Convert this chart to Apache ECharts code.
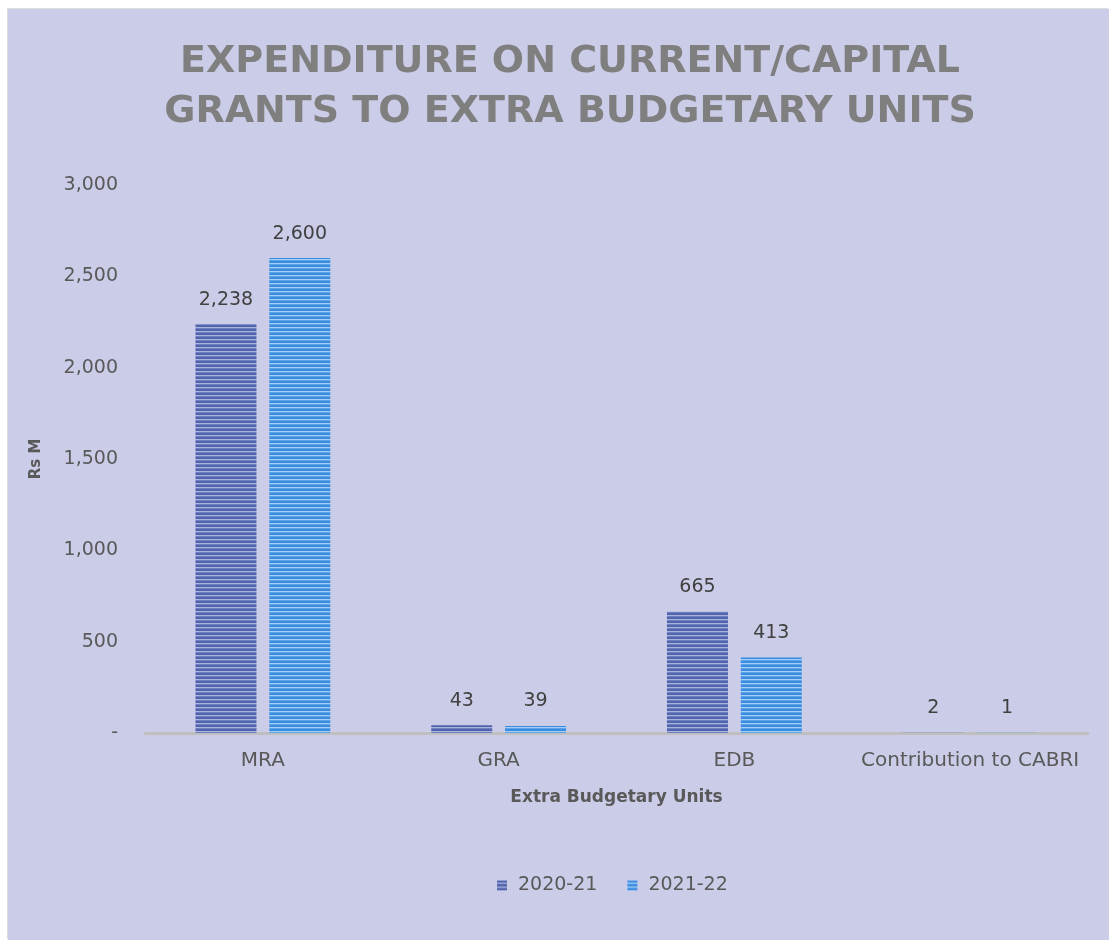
<!DOCTYPE html>
<html>
<head>
<meta charset="utf-8">
<script src="https://cdn.jsdelivr.net/npm/echarts@6/dist/echarts.min.js"></script>
<style>
  html, body { margin: 0; padding: 0; background: #fff; }
  #chart { position: absolute; left: 8px; top: 9px; width: 1101px; height: 931px;
           box-shadow: -1px -1px 0 #dcdcdc; }
</style>
</head>
<body>
<div id="chart"></div>
<script>
const categories = ["MRA", "GRA", "EDB", "Contribution to CABRI"];
const values2021 = [2238, 43, 665, 2];
const values2122 = [2600, 39, 413, 1];
const seriesNames = ["2020-21", "2021-22"];
const yTicks = [0, 500, 1000, 1500, 2000, 2500, 3000];

// horizontal stripe fill like the original
function stripes(dark, light, mid) {
  const c = document.createElement("canvas");
  c.width = 4;
  c.height = 4;
  const ctx = c.getContext("2d");
  ctx.fillStyle = dark;
  ctx.fillRect(0, 0, 4, 4);
  ctx.fillStyle = light;
  ctx.fillRect(0, 2, 4, 1);
  ctx.fillStyle = mid;
  ctx.fillRect(0, 3, 4, 1);
  return { image: c, repeat: "repeat" };
}

const fontFamily = "DejaVu Sans";
const chart = echarts.init(document.getElementById("chart"));

const labelStyle = {
  show: true,
  position: "top",
  distance: 15,
  color: "#404040",
  fontSize: 19,
  fontFamily: fontFamily,
  formatter: p => p.value.toLocaleString("en-US")
};

chart.setOption({
  backgroundColor: "#cbcce7",
  animation: false,
  title: {
    text: "EXPENDITURE ON CURRENT/CAPITAL\nGRANTS TO EXTRA BUDGETARY UNITS",
    left: 557,
    textAlign: "center",
    top: 23,
    textStyle: {
      color: "#7f7f7f",
      fontSize: 38,
      fontWeight: "bold",
      fontFamily: fontFamily,
      lineHeight: 50
    }
  },
  legend: {
    data: seriesNames,
    left: 484,
    top: 862,
    icon: "rect",
    itemWidth: 10,
    itemHeight: 10,
    itemGap: 30,
    textStyle: { color: "#595959", fontSize: 19, fontFamily: fontFamily, padding: [0, 0, 0, 6] }
  },
  grid: { left: 137, right: 21, top: 176, bottom: 207 },
  xAxis: {
    type: "category",
    data: categories,
    name: "Extra Budgetary Units",
    nameLocation: "middle",
    nameGap: 56,
    nameTextStyle: { color: "#595959", fontSize: 17, fontWeight: "bold", fontFamily: fontFamily },
    axisLine: { lineStyle: { color: "#bfbfbf", width: 3 } },
    axisTick: { show: false },
    axisLabel: { color: "#595959", fontSize: 20, fontFamily: fontFamily, margin: 18, interval: 0 }
  },
  yAxis: {
    type: "value",
    min: yTicks[0],
    max: yTicks[yTicks.length - 1],
    interval: 500,
    name: "Rs M",
    nameLocation: "middle",
    nameGap: 101,
    nameRotate: 90,
    nameTextStyle: { color: "#595959", fontSize: 15, fontWeight: "bold", fontFamily: fontFamily },
    splitLine: { show: false },
    axisLine: { show: false },
    axisTick: { show: false },
    axisLabel: {
      color: "#595959",
      fontSize: 19,
      fontFamily: fontFamily,
      margin: 27,
      formatter: v => (v === 0 ? "-" : v.toLocaleString("en-US"))
    }
  },
  series: [
    {
      name: seriesNames[0],
      type: "bar",
      barWidth: 61,
      barGap: "21%",
      itemStyle: { color: stripes("#5163ad", "#a9b4dc", "#6f80c0") },
      label: labelStyle,
      data: values2021
    },
    {
      name: seriesNames[1],
      type: "bar",
      barWidth: 61,
      itemStyle: { color: stripes("#3a8ce0", "#a6cdf3", "#5da3e8") },
      label: labelStyle,
      data: values2122
    }
  ]
});
</script>
</body>
</html>
